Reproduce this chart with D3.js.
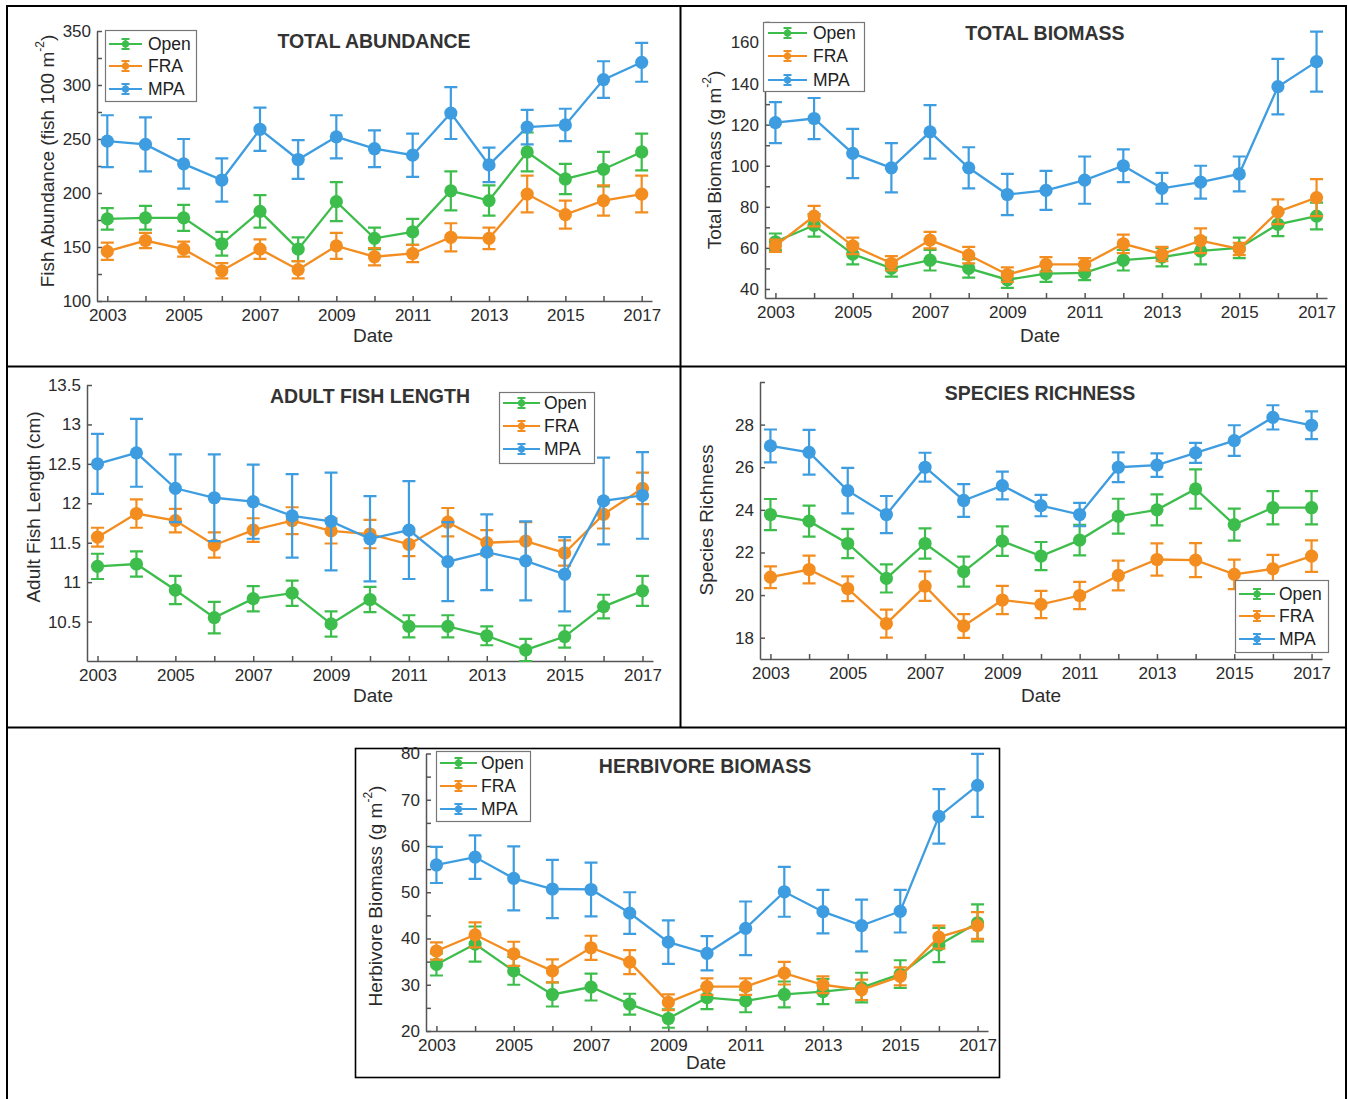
<!DOCTYPE html>
<html>
<head>
<meta charset="utf-8">
<script src="https://cdn.jsdelivr.net/npm/d3@7"></script>
<style>
  body { margin: 0; background: #fff; }
  svg { display: block; }
  text { font-family: "Liberation Sans", Arial, Helvetica, sans-serif; }
</style>
</head>
<body>
<svg id="fig" width="1348" height="1099"></svg>
<script>
// ---- shared categories ----
const years = [2003, 2004, 2005, 2006, 2007, 2008, 2009, 2010, 2011, 2012, 2013, 2014, 2015, 2016, 2017];
const yearLabels = [2003, 2005, 2007, 2009, 2011, 2013, 2015, 2017];
const seriesNames = ["Open", "FRA", "MPA"];
const seriesColors = ["#3dbd4b", "#f38d1f", "#3d9de0"];

// ---- total abundance (fish 100 m^-2) ----
const abundanceOpen    = [176, 177, 177, 153, 183, 148, 192, 158, 164, 202, 193, 238, 213, 222, 238];
const abundanceOpenErr = [10, 11, 12, 11, 15, 11, 18, 10, 12, 18, 14, 18, 14, 16, 17];
const abundanceFRA     = [146, 156, 148, 128, 148, 129, 151, 141, 144, 159, 158, 199, 180, 193, 199];
const abundanceFRAErr  = [8, 7, 7, 7, 9, 8, 12, 8, 8, 13, 10, 17, 13, 14, 17];
const abundanceMPA     = [248, 245, 227, 212, 259, 231, 252, 241, 235, 274, 226, 261, 263, 305, 321];
const abundanceMPAErr  = [24, 25, 23, 20, 20, 18, 20, 17, 20, 24, 16, 16, 15, 17, 18];
const abundanceTicks   = [100, 125, 150, 175, 200, 225, 250, 275, 300, 325, 350];
const abundanceLabels  = [100, 150, 200, 250, 300, 350];

// ---- total biomass (g m^-2) ----
const biomassOpen    = [63, 71, 57, 50, 54, 50, 44.5, 47.5, 47.8, 54, 55.5, 58.5, 60, 71.5, 75.5];
const biomassOpenErr = [4, 5.5, 5, 4, 5, 4.5, 4, 4, 3.5, 5, 4.5, 6.5, 5, 5.8, 6.5];
const biomassFRA     = [61, 75.5, 61, 52.5, 63.8, 56.5, 47, 52, 52, 62, 57, 63.5, 59.5, 77.6, 84.5];
const biomassFRAErr  = [3, 5, 4, 3.5, 4, 4, 3.5, 3.5, 3, 4.5, 3.5, 6, 3, 6, 9];
const biomassMPA     = [121, 123, 106, 99, 116.5, 99, 86, 88, 93, 100, 89, 92, 96, 138.5, 150.7];
const biomassMPAErr  = [10, 10, 12, 12, 13, 10, 10, 9.5, 11.5, 8, 7.5, 8, 8.5, 13.5, 14.6];
const biomassTicks   = [40, 50, 60, 70, 80, 90, 100, 110, 120, 130, 140, 150, 160, 170];
const biomassLabels  = [40, 60, 80, 100, 120, 140, 160];

// ---- adult fish length (cm) ----
const lengthOpen    = [11.2, 11.23, 10.9, 10.55, 10.79, 10.86, 10.47, 10.78, 10.44, 10.44, 10.32, 10.14, 10.31, 10.69, 10.89];
const lengthOpenErr = [0.16, 0.16, 0.18, 0.2, 0.16, 0.16, 0.16, 0.16, 0.14, 0.14, 0.12, 0.14, 0.14, 0.15, 0.19];
const lengthFRA     = [11.57, 11.87, 11.78, 11.47, 11.66, 11.78, 11.65, 11.61, 11.48, 11.76, 11.5, 11.52, 11.37, 11.86, 12.19];
const lengthFRAErr  = [0.12, 0.18, 0.15, 0.16, 0.15, 0.17, 0.16, 0.18, 0.15, 0.18, 0.16, 0.24, 0.16, 0.18, 0.2];
const lengthMPA     = [12.5, 12.64, 12.19, 12.07, 12.02, 11.84, 11.77, 11.55, 11.66, 11.26, 11.38, 11.27, 11.1, 12.03, 12.1];
const lengthMPAErr  = [0.38, 0.43, 0.43, 0.55, 0.47, 0.53, 0.62, 0.54, 0.62, 0.5, 0.48, 0.5, 0.47, 0.55, 0.55];
const lengthTicks   = [10.5, 11, 11.5, 12, 12.5, 13, 13.5];
const lengthLabels  = [10.5, 11, 11.5, 12, 12.5, 13, 13.5];

// ---- species richness ----
const richnessOpen    = [23.78, 23.47, 22.42, 20.78, 22.42, 21.1, 22.53, 21.83, 22.58, 23.7, 24.0, 24.98, 23.31, 24.1, 24.1];
const richnessOpenErr = [0.73, 0.73, 0.69, 0.66, 0.71, 0.7, 0.69, 0.66, 0.72, 0.82, 0.73, 0.92, 0.75, 0.78, 0.78];
const richnessFRA     = [20.84, 21.2, 20.3, 18.66, 20.42, 18.55, 19.77, 19.56, 19.98, 20.92, 21.67, 21.64, 20.97, 21.23, 21.83];
const richnessFRAErr  = [0.51, 0.65, 0.58, 0.66, 0.69, 0.56, 0.66, 0.64, 0.64, 0.7, 0.76, 0.8, 0.69, 0.66, 0.74];
const richnessMPA     = [27, 26.7, 24.9, 23.78, 26, 24.44, 25.14, 24.2, 23.78, 26, 26.1, 26.67, 27.25, 28.34, 27.97];
const richnessMPAErr  = [0.77, 1.05, 1.07, 0.87, 0.68, 0.77, 0.65, 0.5, 0.55, 0.7, 0.55, 0.47, 0.72, 0.57, 0.65];
const richnessTicks   = [18, 20, 22, 24, 26, 28, 30];
const richnessLabels  = [18, 20, 22, 24, 26, 28];

// ---- herbivore biomass (g m^-2) ----
const herbivoreOpen    = [34.4, 38.8, 33, 27.9, 29.5, 25.8, 22.7, 27.2, 26.5, 27.9, 28.5, 29.4, 32.3, 38.6, 43.4];
const herbivoreOpenErr = [2.4, 3.8, 3, 2.6, 2.9, 2.25, 2, 2.45, 2.45, 2.8, 2.7, 3.2, 3, 3.7, 4];
const herbivoreFRA     = [37.3, 40.8, 36.7, 33, 38, 34.9, 26.2, 29.6, 29.6, 32.5, 30, 28.9, 31.8, 40.3, 42.8];
const herbivoreFRAErr  = [1.85, 2.7, 2.6, 2.5, 2.6, 2.6, 1.7, 1.8, 1.8, 2.45, 1.8, 2.2, 1.95, 2.5, 2.9];
const herbivoreMPA     = [55.9, 57.6, 53, 50.7, 50.6, 45.5, 39.2, 36.8, 42.2, 50.1, 45.8, 42.8, 45.9, 66.4, 73.1];
const herbivoreMPAErr  = [3.9, 4.7, 6.9, 6.3, 5.8, 4.5, 4.7, 3.7, 5.8, 5.4, 4.7, 5.6, 4.6, 5.9, 6.8];
const herbivoreTicks   = [20, 25, 30, 35, 40, 45, 50, 55, 60, 65, 70, 75, 80];
const herbivoreLabels  = [20, 30, 40, 50, 60, 70, 80];

// ---- figure ----
const svg = d3.select("#fig");
const axisColor = "#555";
const textColor = "#2b2b2b";
const xLimits = [2002.73, 2017.27];

// panel frames
const frame = svg.append("g").attr("fill", "none").attr("stroke", "#000").attr("stroke-width", 2);
frame.append("path").attr("d", "M7,1099 V6 H1346 V1099");
frame.append("path").attr("d", "M680.5,6 V727");
frame.append("path").attr("d", "M7,366.5 H1346");
frame.append("path").attr("d", "M7,727.5 H1346");
frame.append("rect").attr("x", 355.5).attr("y", 748.5).attr("width", 644).attr("height", 329).attr("stroke-width", 1.6);

function drawPanel(p) {
  const x = d3.scaleLinear().domain(xLimits).range([p.box.left, p.box.right]);
  const y = d3.scaleLinear().domain(p.yLimits).range([p.box.bottom, p.box.top]);
  const g = svg.append("g");

  // axes with inward ticks
  const xa = g.append("g")
    .attr("transform", `translate(0,${p.box.bottom})`)
    .call(d3.axisBottom(x).tickValues(years)
      .tickFormat(d => yearLabels.includes(d) ? d : "")
      .tickSizeInner(-5).tickSizeOuter(0).tickPadding(8));
  const ya = g.append("g")
    .attr("transform", `translate(${p.box.left},0)`)
    .call(d3.axisLeft(y).tickValues(p.yTicks)
      .tickFormat(d => p.yLabels.includes(d) ? String(d) : "")
      .tickSizeInner(-5).tickSizeOuter(0).tickPadding(6));
  [xa, ya].forEach(a => {
    a.select(".domain").attr("stroke", axisColor).attr("stroke-width", 1.5);
    a.selectAll(".tick line").attr("stroke", axisColor).attr("stroke-width", 1.5);
    a.selectAll("text").attr("fill", textColor).attr("font-size", 17)
      .attr("font-family", "'Liberation Sans', Arial, sans-serif");
  });

  // series: line, error bars, markers
  p.series.forEach((s, k) => {
    const color = seriesColors[k];
    const sg = g.append("g");
    sg.append("path")
      .datum(years.map((yr, i) => [yr, s.values[i]]))
      .attr("fill", "none").attr("stroke", color).attr("stroke-width", 2.3)
      .attr("d", d3.line().x(d => x(d[0])).y(d => y(d[1])));
    sg.selectAll(".err").data(years).join("path")
      .attr("fill", "none").attr("stroke", color).attr("stroke-width", 2.2)
      .attr("d", (yr, i) => {
        const cx = x(yr), hi = y(s.values[i] + s.errors[i]), lo = y(s.values[i] - s.errors[i]);
        return `M${cx},${hi}V${lo}M${cx - 6.5},${hi}h13M${cx - 6.5},${lo}h13`;
      });
    sg.selectAll("circle").data(years).join("circle")
      .attr("cx", yr => x(yr)).attr("cy", (yr, i) => y(s.values[i]))
      .attr("r", 6.6).attr("fill", color);
  });

  // title and axis titles
  g.append("text").attr("x", p.title.x).attr("y", p.title.y)
    .attr("text-anchor", "middle").attr("dominant-baseline", "central")
    .attr("font-weight", "bold").attr("font-size", 19.5).attr("fill", "#333")
    .text(p.title.text);
  g.append("text").attr("x", p.xTitle.x).attr("y", p.xTitle.y)
    .attr("text-anchor", "middle").attr("dominant-baseline", "central")
    .attr("font-size", 19).attr("fill", textColor).text("Date");
  const yt = g.append("text")
    .attr("transform", `translate(${p.yTitle.x},${p.yTitle.y}) rotate(-90)`)
    .attr("text-anchor", "middle").attr("dominant-baseline", "central")
    .attr("font-size", 19).attr("fill", textColor);
  yt.append("tspan").text(p.yTitle.text);
  if (p.yTitle.sup) {
    yt.append("tspan").attr("font-size", 12).attr("dy", -7).text(p.yTitle.sup);
    yt.append("tspan").attr("dy", 7).text(")");
  }

  // legend
  const L = p.legend;
  const lg = g.append("g");
  lg.append("rect").attr("x", L.x + 0.5).attr("y", L.y + 0.5).attr("width", L.w).attr("height", L.h)
    .attr("fill", "#fff").attr("stroke", "#777").attr("stroke-width", 1.2);
  seriesNames.forEach((name, k) => {
    const ry = L.rows[k], c = seriesColors[k];
    const mx = (L.s0 + L.s1) / 2;
    lg.append("path").attr("stroke", c).attr("stroke-width", 2).attr("fill", "none")
      .attr("d", `M${L.s0},${ry}H${L.s1}M${mx},${ry - 5}V${ry + 5}M${mx - 4},${ry - 5}h8M${mx - 4},${ry + 5}h8`);
    lg.append("circle").attr("cx", mx).attr("cy", ry).attr("r", 3.6).attr("fill", c);
    lg.append("text").attr("x", L.tx).attr("y", ry).attr("dominant-baseline", "central")
      .attr("font-size", 17.5).attr("fill", "#222").text(name);
  });
}

drawPanel({
  box: { left: 97, right: 652, top: 31, bottom: 301 },
  yLimits: [100, 350], yTicks: abundanceTicks, yLabels: abundanceLabels,
  series: [
    { values: abundanceOpen, errors: abundanceOpenErr },
    { values: abundanceFRA, errors: abundanceFRAErr },
    { values: abundanceMPA, errors: abundanceMPAErr }
  ],
  title: { text: "TOTAL ABUNDANCE", x: 374, y: 41 },
  xTitle: { x: 373, y: 335 },
  yTitle: { text: "Fish Abundance (fish 100 m", sup: "-2", x: 47, y: 161 },
  legend: { x: 105, y: 30, w: 91, h: 71, s0: 109, s1: 142, tx: 148, rows: [44, 66, 89] }
});

drawPanel({
  box: { left: 765, right: 1327, top: 22, bottom: 298 },
  yLimits: [35.6, 170], yTicks: biomassTicks, yLabels: biomassLabels,
  series: [
    { values: biomassOpen, errors: biomassOpenErr },
    { values: biomassFRA, errors: biomassFRAErr },
    { values: biomassMPA, errors: biomassMPAErr }
  ],
  title: { text: "TOTAL BIOMASS", x: 1045, y: 33 },
  xTitle: { x: 1040, y: 335 },
  yTitle: { text: "Total Biomass (g m", sup: "-2", x: 714, y: 160 },
  legend: { x: 763, y: 22, w: 101, h: 69, s0: 768, s1: 807, tx: 813, rows: [33, 56, 80] }
});

drawPanel({
  box: { left: 87, right: 653, top: 385, bottom: 661 },
  yLimits: [10, 13.5], yTicks: lengthTicks, yLabels: lengthLabels,
  series: [
    { values: lengthOpen, errors: lengthOpenErr },
    { values: lengthFRA, errors: lengthFRAErr },
    { values: lengthMPA, errors: lengthMPAErr }
  ],
  title: { text: "ADULT FISH LENGTH", x: 370, y: 396 },
  xTitle: { x: 373, y: 695 },
  yTitle: { text: "Adult Fish Length (cm)", x: 33, y: 507 },
  legend: { x: 499, y: 392, w: 95, h: 71, s0: 503, s1: 540, tx: 544, rows: [403, 426, 449] }
});

drawPanel({
  box: { left: 760, right: 1322, top: 382, bottom: 659 },
  yLimits: [17, 30], yTicks: richnessTicks, yLabels: richnessLabels,
  series: [
    { values: richnessOpen, errors: richnessOpenErr },
    { values: richnessFRA, errors: richnessFRAErr },
    { values: richnessMPA, errors: richnessMPAErr }
  ],
  title: { text: "SPECIES RICHNESS", x: 1040, y: 393 },
  xTitle: { x: 1041, y: 695 },
  yTitle: { text: "Species Richness", x: 706, y: 520 },
  legend: { x: 1235, y: 580, w: 93, h: 72, s0: 1239, s1: 1275, tx: 1279, rows: [594, 616, 639] }
});

drawPanel({
  box: { left: 426, right: 988, top: 753.5, bottom: 1031 },
  yLimits: [20, 80], yTicks: herbivoreTicks, yLabels: herbivoreLabels,
  series: [
    { values: herbivoreOpen, errors: herbivoreOpenErr },
    { values: herbivoreFRA, errors: herbivoreFRAErr },
    { values: herbivoreMPA, errors: herbivoreMPAErr }
  ],
  title: { text: "HERBIVORE BIOMASS", x: 705, y: 766 },
  xTitle: { x: 706, y: 1062 },
  yTitle: { text: "Herbivore Biomass (g m", sup: "-2", x: 375, y: 896 },
  legend: { x: 436, y: 751, w: 94, h: 70, s0: 440, s1: 477, tx: 481, rows: [763, 786, 809] }
});
</script>
</body>
</html>
